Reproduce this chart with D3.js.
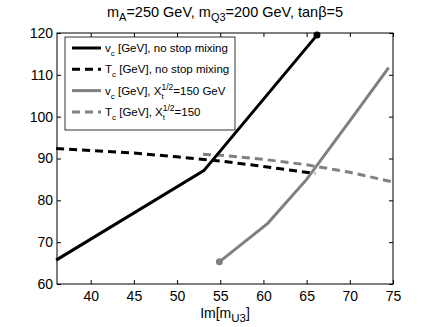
<!DOCTYPE html>
<html>
<head>
<meta charset="utf-8">
<script src="https://cdn.jsdelivr.net/npm/d3@7"></script>
<style>
  body { margin: 0; background: #fff; }
  text { font-family: "Liberation Sans", Arial, sans-serif; }
</style>
</head>
<body>
<svg id="chart"></svg>
<script>
// data
var vcNoMixX = [36, 53.1, 66.2];
var vcNoMixY = [65.7, 87.1, 119.5];
var tcNoMixX = [36, 45, 50, 55, 60, 66];
var tcNoMixY = [92.4, 91.3, 90.4, 89.4, 88.1, 86.4];
var vcMixX = [54.9, 60.5, 65, 70, 74.5];
var vcMixY = [65.3, 74.5, 85, 99, 111.7];
var tcMixX = [53, 55, 60, 65, 70, 75];
var tcMixY = [91.0, 90.8, 89.8, 88.5, 86.7, 84.4];
var xTicks = [40, 45, 50, 55, 60, 65, 70, 75];
var yTicks = [60, 70, 80, 90, 100, 110, 120];

var width = 434, height = 327;
var margin = {top: 33, right: 41, bottom: 43, left: 57};
var w = width - margin.left - margin.right,
    h = height - margin.top - margin.bottom;

var svg = d3.select("#chart").attr("width", width).attr("height", height);

var x = d3.scaleLinear().domain([36.1, 75]).range([0, w]);
var y = d3.scaleLinear().domain([60, 120]).range([h, 0]);

var g = svg.append("g").attr("transform", "translate(" + margin.left + "," + margin.top + ")");

var clip = g.append("clipPath").attr("id", "clip");
clip.append("rect").attr("x", -6).attr("y", -6).attr("width", w + 12).attr("height", h + 12);

// axes, ticks inside like matlab
g.append("g").attr("transform", "translate(0," + h + ")")
  .call(d3.axisBottom(x).tickValues(xTicks).tickSizeInner(-4).tickSizeOuter(0).tickPadding(7));
g.append("g")
  .call(d3.axisTop(x).tickValues(xTicks).tickSizeInner(-4).tickSizeOuter(0).tickFormat(""));
g.append("g")
  .call(d3.axisLeft(y).tickValues(yTicks).tickSizeInner(-4).tickSizeOuter(0).tickPadding(4));
g.append("g").attr("transform", "translate(" + w + ",0)")
  .call(d3.axisRight(y).tickValues(yTicks).tickSizeInner(-4).tickSizeOuter(0).tickFormat(""));

g.selectAll(".tick text").attr("font-size", 14).attr("fill", "#000")
  .style("font-family", "Liberation Sans, Arial, sans-serif");
g.selectAll(".domain").remove();
g.selectAll(".tick line").attr("stroke", "#000");
g.append("rect").attr("width", w).attr("height", h)
  .attr("fill", "none").attr("stroke", "#000").attr("stroke-width", 1);

var line = d3.line().x(function(d) { return x(d[0]); }).y(function(d) { return y(d[1]); });

var series = [
  {xs: tcMixX, ys: tcMixY, color: "#808080", dash: "8,5"},
  {xs: tcNoMixX, ys: tcNoMixY, color: "#000", dash: "8,5"},
  {xs: vcMixX, ys: vcMixY, color: "#808080", dash: null},
  {xs: vcNoMixX, ys: vcNoMixY, color: "#000", dash: null}
];

var plot = g.append("g").attr("clip-path", "url(#clip)");
series.forEach(function(s) {
  var pts = d3.zip(s.xs, s.ys);
  plot.append("path").datum(pts)
    .attr("d", line)
    .attr("fill", "none")
    .attr("stroke", s.color)
    .attr("stroke-width", 3)
    .attr("stroke-dasharray", s.dash);
});

// end markers
plot.append("circle").attr("cx", x(vcNoMixX[vcNoMixX.length - 1])).attr("cy", y(vcNoMixY[vcNoMixY.length - 1]))
  .attr("r", 3.5).attr("fill", "#000");
plot.append("circle").attr("cx", x(vcMixX[0])).attr("cy", y(vcMixY[0]))
  .attr("r", 3.5).attr("fill", "#808080");

// legend
var lg = g.append("g").attr("transform", "translate(8,4)");
lg.append("rect").attr("width", 170).attr("height", 93)
  .attr("fill", "#fff").attr("stroke", "#000").attr("stroke-width", 0.8);

var legendItems = [
  {color: "#000", dash: null, parts: [["v", 0], ["c", 1], [" [GeV], no stop mixing", 0]]},
  {color: "#000", dash: "8,5", parts: [["T", 0], ["c", 1], [" [GeV], no stop mixing", 0]]},
  {color: "#808080", dash: null, parts: [["v", 0], ["c", 1], [" [GeV],  X", 0], ["t", 1], ["1/2", 2], ["=150 GeV", 0]]},
  {color: "#808080", dash: "8,5", parts: [["T", 0], ["c", 1], [" [GeV], X", 0], ["t", 1], ["1/2", 2], ["=150", 0]]}
];

legendItems.forEach(function(it, i) {
  var cy = 11 + i * 21.3;
  lg.append("line").attr("x1", 7).attr("x2", 36).attr("y1", cy).attr("y2", cy)
    .attr("stroke", it.color).attr("stroke-width", 3).attr("stroke-dasharray", it.dash);
  var t = lg.append("text").attr("x", 40).attr("y", cy + 4).attr("font-size", 11.5).attr("fill", "#000");
  var prevKind = 0;
  it.parts.forEach(function(p) {
    var ts = t.append("tspan").text(p[0]);
    if (p[1] === 1) {
      ts.attr("font-size", 8).attr("dy", 4);
    } else if (p[1] === 2) {
      ts.attr("font-size", 8.5).attr("dx", -2.2).attr("dy", -9);
    } else if (prevKind === 1) {
      ts.attr("dy", -4);
    } else if (prevKind === 2) {
      ts.attr("dy", 5);
    }
    prevKind = p[1];
  });
});

// title
var title = svg.append("text").attr("x", margin.left + w / 2).attr("y", 17)
  .attr("text-anchor", "middle").attr("font-size", 14.5).attr("fill", "#000");
title.append("tspan").text("m");
title.append("tspan").text("A").attr("font-size", 11).attr("dy", 4);
title.append("tspan").text("=250 GeV, m").attr("dy", -4);
title.append("tspan").text("Q3").attr("font-size", 11).attr("dy", 4);
title.append("tspan").text("=200 GeV, tanβ=5").attr("dy", -4);

// x label
var xl = svg.append("text").attr("x", margin.left + w / 2).attr("y", 318)
  .attr("text-anchor", "middle").attr("font-size", 14).attr("fill", "#000");
xl.append("tspan").text("Im[m");
xl.append("tspan").text("U3").attr("font-size", 11.5).attr("dy", 4);
xl.append("tspan").text("]").attr("dy", -4);
</script>
</body>
</html>
